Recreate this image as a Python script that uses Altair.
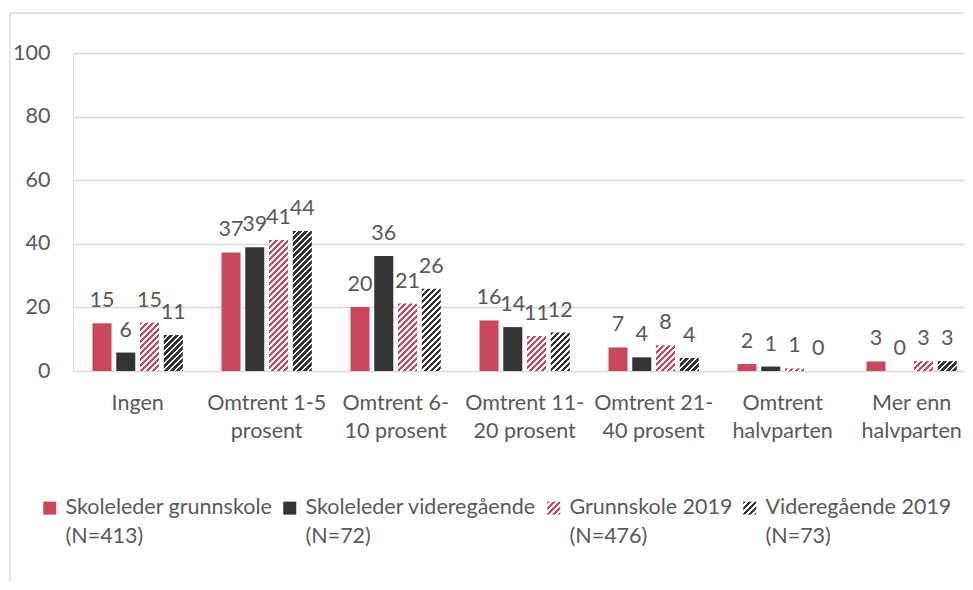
import json
import altair as alt

# ---------------- data ----------------
categories = [
    "Ingen",
    "Omtrent 1-5 prosent",
    "Omtrent 6-10 prosent",
    "Omtrent 11-20 prosent",
    "Omtrent 21-40 prosent",
    "Omtrent halvparten",
    "Mer enn halvparten",
]
category_lines = [
    ["Ingen"],
    ["Omtrent 1-5", "prosent"],
    ["Omtrent 6-", "10 prosent"],
    ["Omtrent 11-", "20 prosent"],
    ["Omtrent 21-", "40 prosent"],
    ["Omtrent", "halvparten"],
    ["Mer enn", "halvparten"],
]
series = [
    "Skoleleder grunnskole (N=413)",
    "Skoleleder videregående (N=72)",
    "Grunnskole 2019 (N=476)",
    "Videregående 2019 (N=73)",
]
skoleleder_grunnskole = [15.0, 37.3, 20.1, 15.9, 7.4, 2.2, 3.0]
skoleleder_videregaende = [5.8, 38.9, 36.2, 13.8, 4.3, 1.4, 0.0]
grunnskole_2019 = [15.2, 41.2, 21.2, 11.0, 8.1, 0.8, 3.1]
videregaende_2019 = [11.3, 44.0, 25.9, 12.1, 4.1, 0.0, 3.1]
series_values = [skoleleder_grunnskole, skoleleder_videregaende, grunnskole_2019, videregaende_2019]

RED = "#C8475A"
DARK = "#333333"
series_colors = [RED, DARK, RED, DARK]
series_hatched = [False, False, True, True]

# ---------------- layout ----------------
W, H = 892, 318
Y_MAX = 100
STEP = 129.0
PAD_INNER = 0.3
PAD_OUTER = (W / STEP - len(categories) + PAD_INNER) / 2
LEFT_GAP = 19.5
ALIGN = min(1.0, LEFT_GAP / (2 * PAD_OUTER * STEP))
SUB_PAD = 0.2
BAR_W = (1 - PAD_INNER) * STEP / (len(series) - SUB_PAD) * (1 - SUB_PAD)
PX_PER_UNIT = H / Y_MAX

FONT = "Lato"
FS = 21.5
TXT = "#595959"
GRID = "#D9D9D9"


def hatch(color, w, h, period=6.0, duty=0.5):
    L = w + h
    n = int(L / period) + 2
    stops = []
    for k in range(n):
        a = min(1.0, k * period / L)
        b = min(1.0, (k + duty) * period / L)
        c = min(1.0, (k + 1) * period / L)
        stops += [
            {"offset": round(a, 5), "color": color},
            {"offset": round(b, 5), "color": color},
            {"offset": round(b, 5), "color": "#ffffff"},
            {"offset": round(c, 5), "color": "#ffffff"},
        ]
    d = w * w + h * h
    return {"gradient": "linear", "x1": 0, "y1": 0,
            "x2": round(L * w / d, 6), "y2": round(L * h / d, 6), "stops": stops}


rows = []
for s, vals, col, hat in zip(series, series_values, series_colors, series_hatched):
    for c, v in zip(categories, vals):
        paint = col
        if hat and v > 0:
            paint = hatch(col, BAR_W, v * PX_PER_UNIT, duty=0.5 if col == RED else 0.55)
        rows.append({"category": c, "series": s, "value": v, "paint": paint})

data = alt.Data(values=rows)

label_map = json.dumps(dict(zip(categories, category_lines)), ensure_ascii=False)

# legend symbol fills (hatched ones as gradients)
sym_expr = ""
for s, col, hat in zip(series, series_colors, series_hatched):
    val = json.dumps(hatch(col, 13, 13, period=6.0)) if hat else json.dumps(col)
    sym_expr += f"datum.value === {json.dumps(s, ensure_ascii=False)} ? {val} : "
sym_expr += json.dumps(DARK)

x_enc = alt.X(
    "category:N",
    sort=categories,
    scale=alt.Scale(paddingInner=PAD_INNER, paddingOuter=PAD_OUTER, align=ALIGN),
    axis=alt.Axis(
        title=None, labelAngle=0, domain=False, ticks=False, tickSize=0,
        labelExpr=f"{label_map}[datum.label]",
        labelFont=FONT, labelFontSize=FS, labelColor=TXT,
        labelLineHeight=28, labelPadding=21, labelBaseline="top",
    ),
)
xo_enc = alt.XOffset(
    "series:N", sort=series,
    scale=alt.Scale(domain=series, paddingInner=SUB_PAD, paddingOuter=0),
)
y_enc = alt.Y(
    "value:Q",
    scale=alt.Scale(domain=[0, Y_MAX]),
    axis=alt.Axis(
        title=None, values=[0, 20, 40, 60, 80, 100], domain=False, ticks=False,
        gridColor=GRID, gridWidth=1.3,
        labelFont=FONT, labelFontSize=FS, labelColor=TXT, labelPadding=23,
    ),
)

legend_layer = alt.Chart(data).mark_point(filled=True, opacity=0).encode(
    x=x_enc, xOffset=xo_enc, y=y_enc,
    fill=alt.Fill("paint:N", scale=None),
    shape=alt.Shape(
        "series:N",
        scale=alt.Scale(domain=series, range=["square"] * len(series)),
        legend=alt.Legend(
            title=None, orient="none", legendX=-34, legendY=444,
            direction="horizontal", columns=4,
            symbolType="square", symbolSize=169, symbolStrokeWidth=0, symbolOpacity=1,
            symbolFillColor={"expr": sym_expr},
            labelFont=FONT, labelFontSize=FS, labelColor=TXT, labelLimit=500,
            labelOffset=5, columnPadding=6, labelBaseline="middle",
            labelExpr="[substring(datum.label, 0, indexof(datum.label, ' (')), substring(datum.label, indexof(datum.label, ' (') + 1)]",
        ),
    ),
)

bar_layer = alt.Chart(data).mark_bar().encode(
    x=x_enc, xOffset=xo_enc, y=y_enc,
    fill=alt.Fill("paint:N", scale=None),
)

text_layer = alt.Chart(data).mark_text(
    font=FONT, fontSize=FS, color=TXT, baseline="alphabetic", dy=-16,
).encode(
    x=x_enc, xOffset=xo_enc, y=y_enc,
    text=alt.Text("value:Q", format=".0f"),
)

# light chart-area frame (decoration, like the spreadsheet chart border)
frame_layer = alt.Chart(alt.Data(values=[{"f": 1}])).mark_rect(
    filled=False, stroke=GRID, strokeWidth=1.3, clip=False,
).encode(
    x=alt.value(-63), x2=alt.value(W + 60),
    y=alt.value(-40), y2=alt.value(H + 260),
)

chart = alt.layer(frame_layer, bar_layer, text_layer, legend_layer).properties(
    width=W, height=H,
    autosize=alt.AutoSizeParams(type="none"),
    padding={"left": 65, "top": 45, "right": 0, "bottom": 211},
).configure_view(stroke=None).configure(
    background="#ffffff",
    style={"guide-label": {"lineHeight": 29}},
)

chart.save("out.html", embed_options={"renderer": "svg", "actions": False})
